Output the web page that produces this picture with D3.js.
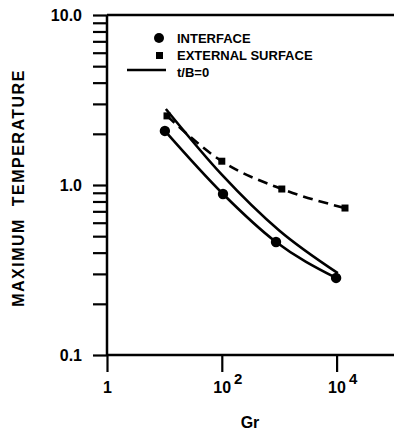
<!DOCTYPE html>
<html>
<head>
<meta charset="utf-8">
<script src="https://cdn.jsdelivr.net/npm/d3@7"></script>
<style>
  html, body { margin: 0; padding: 0; background: #fff; }
  svg { display: block; }
  text { font-family: "Liberation Sans", Arial, Helvetica, sans-serif; font-weight: bold; fill: #000; }
</style>
</head>
<body>
<svg id="chart" width="394" height="431"></svg>
<script>
// Maximum temperature vs Grashof number
const grInterface = [10.2, 105, 880, 9800];
const tInterface  = [2.08, 0.885, 0.462, 0.284];

const grExternal = [11.1, 100, 1110, 14000];
const tExternal  = [2.55, 1.38, 0.947, 0.732];

const grZero = [10.6, 100, 1000, 10500];
const tZero  = [2.8, 1.15, 0.54, 0.303];

const yTickLabels = { 0.1: "0.1", 1: "1.0", 10: "10.0" };
const xMajorTicks = [1, 100, 10000];
const legendLabels = ["INTERFACE", "EXTERNAL SURFACE", "t/B=0"];

const svg = d3.select("#chart");

const x = d3.scaleLog().domain([1, 1e5]).range([107, 394]);
const y = d3.scaleLog().domain([0.1, 10]).range([355, 15]);

// y ticks: every integer multiple within each decade
const yTicks = [];
[0.1, 1].forEach(d => { for (let k = 1; k < 10; k++) yTicks.push(+(d * k).toPrecision(3)); });
yTicks.push(10);

const yAxis = svg.append("g")
  .attr("transform", `translate(${x(1)},0)`)
  .call(d3.axisLeft(y)
    .tickValues(yTicks)
    .tickSize(14)
    .tickPadding(11)
    .tickFormat(d => yTickLabels[d] || ""));
yAxis.select(".domain").remove();
yAxis.selectAll(".tick line").attr("stroke", "#000").attr("stroke-width", 2.2);
yAxis.selectAll(".tick text").style("font-size", "16px");

const xAxis = svg.append("g")
  .attr("transform", `translate(0,${y(0.1)})`)
  .call(d3.axisBottom(x)
    .tickValues(xMajorTicks)
    .tickSize(17)
    .tickPadding(3)
    .tickFormat(() => ""));
xAxis.select(".domain").remove();
xAxis.selectAll(".tick line").attr("stroke", "#000").attr("stroke-width", 2.2);
xAxis.selectAll(".tick text").each(function(d) {
  const t = d3.select(this).style("font-size", "16px").attr("y", 38).attr("dy", null);
  const e = Math.round(Math.log10(d));
  if (e === 0) {
    t.text("1");
  } else {
    t.attr("text-anchor", "start").attr("x", -9);
    t.append("tspan").text("10");
    t.append("tspan").attr("dx", 3).attr("dy", -9).style("font-size", "15px").text(e);
  }
});

// frame: left axis, top and bottom lines
const frame = svg.append("g").attr("stroke", "#000").attr("stroke-width", 2.5).attr("fill", "none");
frame.append("line").attr("x1", x(1)).attr("x2", x(1)).attr("y1", y(10)).attr("y2", y(0.1));
frame.append("line").attr("x1", x(1)).attr("x2", x(1e5)).attr("y1", y(10)).attr("y2", y(10));
frame.append("line").attr("x1", x(1)).attr("x2", x(1e5)).attr("y1", y(0.1)).attr("y2", y(0.1));

// axis titles
svg.append("text")
  .attr("transform", `translate(24,${(y(0.1) + y(10)) / 2 + 3}) rotate(-90)`)
  .attr("text-anchor", "middle")
  .style("font-size", "16px")
  .style("letter-spacing", "1.5px")
  .style("white-space", "pre")
  .text("MAXIMUM  TEMPERATURE");

svg.append("text")
  .attr("x", 250).attr("y", 428)
  .attr("text-anchor", "middle")
  .style("font-size", "16px")
  .text("Gr");

// curves
const line = (gr, t) => d3.line()
  .x((d, i) => x(gr[i]))
  .y((d, i) => y(t[i]))
  .curve(d3.curveMonotoneX)(gr);

svg.append("path").attr("d", line(grZero, tZero))
  .attr("fill", "none").attr("stroke", "#000").attr("stroke-width", 2.6);
svg.append("path").attr("d", line(grInterface, tInterface))
  .attr("fill", "none").attr("stroke", "#000").attr("stroke-width", 2.6);
svg.append("path").attr("d", line(grExternal, tExternal))
  .attr("fill", "none").attr("stroke", "#000").attr("stroke-width", 2.6)
  .attr("stroke-dasharray", "10,6");

// markers
svg.append("g").selectAll("circle").data(grInterface).join("circle")
  .attr("cx", d => x(d)).attr("cy", (d, i) => y(tInterface[i])).attr("r", 5.2).attr("fill", "#000");
svg.append("g").selectAll("rect").data(grExternal).join("rect")
  .attr("x", d => x(d) - 3.5).attr("y", (d, i) => y(tExternal[i]) - 3.5)
  .attr("width", 7).attr("height", 7).attr("fill", "#000");

// legend
const lg = svg.append("g");
lg.append("circle").attr("cx", 159).attr("cy", 38).attr("r", 5).attr("fill", "#000");
lg.append("rect").attr("x", 156).attr("y", 52).attr("width", 7).attr("height", 7).attr("fill", "#000");
lg.append("line").attr("x1", 127).attr("x2", 166).attr("y1", 70).attr("y2", 70)
  .attr("stroke", "#000").attr("stroke-width", 2.6);
legendLabels.forEach((s, i) => {
  lg.append("text").attr("x", 177).attr("y", [43, 60, 77][i])
    .style("font-size", "13px").text(s);
});
</script>
</body>
</html>
